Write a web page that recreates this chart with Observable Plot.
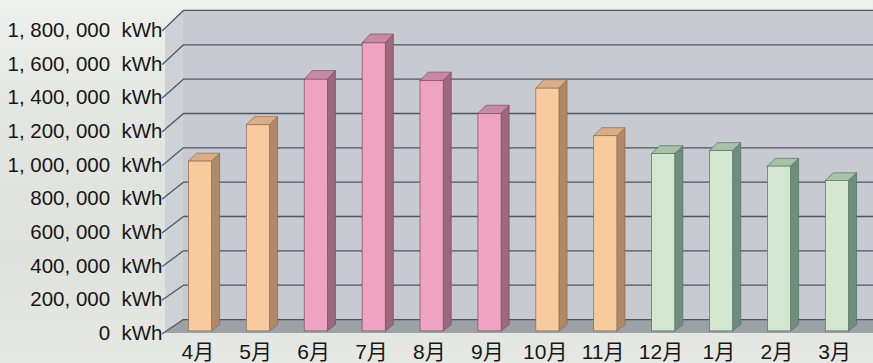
<!DOCTYPE html>
<html>
<head>
<meta charset="utf-8">
<script src="https://cdn.jsdelivr.net/npm/d3@7"></script>
<script src="https://cdn.jsdelivr.net/npm/@observablehq/plot@0.6"></script>
<style>
  html, body { margin: 0; padding: 0; }
  body {
    width: 873px; height: 363px; overflow: hidden;
    background: linear-gradient(180deg, #eef0ed 0%, #e4e7e1 30%, #dfe2dc 70%, #e6e8e3 100%);
  }
  #chart svg g[aria-label="x-axis tick label"] text { font-size: 21px; }
</style>
</head>
<body>
<div id="chart"></div>
<script>
// Monthly electricity use (April to March)
const months = ["4月", "5月", "6月", "7月", "8月", "9月", "10月", "11月", "12月", "1月", "2月", "3月"];
const usage = [1006000, 1221000, 1491000, 1706000, 1482000, 1288000, 1438000, 1156000, 1050000, 1068000, 976000, 891000];
const seasons = ["mid", "mid", "summer", "summer", "summer", "summer", "mid", "mid", "winter", "winter", "winter", "winter"];
const yTicks = [0, 200000, 400000, 600000, 800000, 1000000, 1200000, 1400000, 1600000, 1800000];

// Face colours of the 3D columns per season
const palette = {
  mid:    {front: "#f7cb9e", side: "#b08a68", top: "#d9ad86", edge: "#8a6a50"},
  summer: {front: "#eea4be", side: "#9c687c", top: "#c88aa2", edge: "#7a4e60"},
  winter: {front: "#d3e7d0", side: "#6e8d7c", top: "#a8c2aa", edge: "#557060"}
};

// Oblique projection: depth d in [0, 1] shifts x right and y up
const DX = 0.31, DY = 83000, PERSP = 0.02;
const at = (v, d) => d * DY + v * (1 + d * PERSP);
const D1 = 0.15, D2 = 0.6, HALF = 0.2;      // column depth span and half width
const X_LEFT = -0.558, X_RIGHT = 12.4;      // extent of the walls and floor
const Y_MAX = yTicks[yTicks.length - 1];

const bars = months.map((m, i) => ({i, m, v: usage[i], s: seasons[i]}));

const sides = bars.flatMap(b => [D1, D2].map(d => ({
  ...b, x: b.i + HALF + d * DX, y1: at(0, d), y2: at(b.v, d)
})));
const tops = bars.flatMap(b => [D1, D2].map(d => ({
  ...b, y: at(b.v, d), x1: b.i - HALF + d * DX, x2: b.i + HALF + d * DX
})));

const sideWall = [0, 1].map(d => ({x: X_LEFT + d * DX, y1: at(0, d), y2: at(Y_MAX, d)}));
const floor = [0, 1].map(d => ({y: at(0, d), x1: X_LEFT + d * DX, x2: X_RIGHT + d * DX}));
const grid = yTicks.flatMap(t => [
  {t, x: X_LEFT - 0.05, y: t},
  {t, x: X_LEFT + DX, y: at(t, 1)},
  {t, x: X_RIGHT, y: at(t, 1)}
]);

const fmt = d3.format(",");

const chart = Plot.plot({
  width: 873,
  height: 363,
  marginLeft: 165,
  marginRight: 0,
  marginTop: 10,
  marginBottom: 28,
  style: {
    background: "transparent",
    fontFamily: "'Liberation Sans', 'Noto Sans CJK JP', sans-serif",
    fontSize: "20.5px",
    color: "#161616",
    overflow: "hidden"
  },
  color: {type: "identity"},
  x: {
    type: "linear",
    domain: [-0.5, 11.5],
    range: [168.35, 863.15],
    ticks: months.map((_, i) => i),
    tickFormat: i => months[i],
    tickSize: 0,
    tickPadding: 9,
    label: null
  },
  y: {
    domain: [0, Y_MAX],
    range: [333, 30],
    ticks: yTicks,
    tickFormat: t => fmt(t).replace(/,/g, ", ") + "\u00a0\u00a0kWh",
    tickSize: 0,
    tickPadding: 3,
    label: null
  },
  marks: [
    // back wall
    Plot.rect([Y_MAX], {x1: () => X_LEFT + DX, x2: () => X_RIGHT, y1: () => at(0, 1), y2: t => at(t, 1), fill: "#c7cad1"}),
    // left side wall
    Plot.areaY(sideWall, {x: "x", y1: "y1", y2: "y2", fill: "#cdd1d8"}),
    // floor
    Plot.areaX(floor, {y: "y", x1: "x1", x2: "x2", fill: "#9ba1a6"}),
    // gridlines on side and back walls
    Plot.line(grid, {x: "x", y: "y", z: "t", stroke: "#4f575d", strokeWidth: 1.3}),
    // columns: side, top and front faces
    Plot.areaY(sides, {x: "x", y1: "y1", y2: "y2", z: "m", fill: d => palette[d.s].side, stroke: d => palette[d.s].edge, strokeWidth: 0.7}),
    Plot.areaX(tops, {y: "y", x1: "x1", x2: "x2", z: "m", fill: d => palette[d.s].top, stroke: d => palette[d.s].edge, strokeWidth: 0.7}),
    Plot.rect(bars, {
      x1: d => d.i - HALF + D1 * DX,
      x2: d => d.i + HALF + D1 * DX,
      y1: () => at(0, D1),
      y2: d => at(d.v, D1),
      fill: d => palette[d.s].front,
      stroke: d => palette[d.s].edge,
      strokeWidth: 0.7
    })
  ]
});

document.getElementById("chart").append(chart);
</script>
</body>
</html>
